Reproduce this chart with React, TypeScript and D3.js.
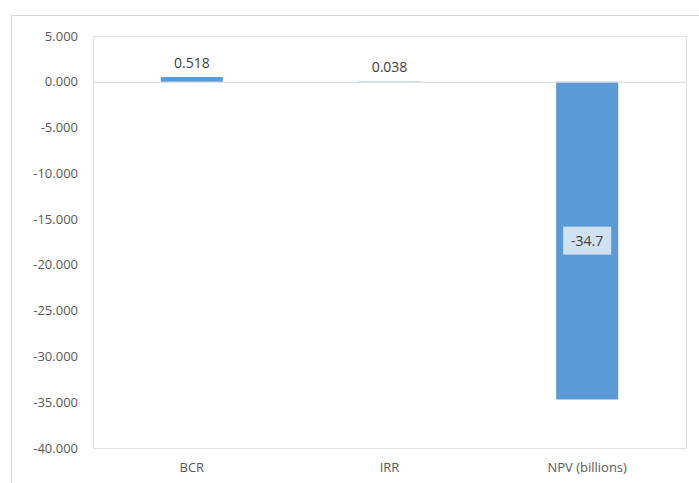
import * as d3 from "d3";

const categories = ["BCR", "IRR", "NPV (billions)"];
const values = [0.518, 0.038, -34.7];
const valueLabels = ["0.518", "0.038", "-34.7"];
const yTicks = [5, 0, -5, -10, -15, -20, -25, -30, -35, -40];

const width = 699;
const height = 483;
const plot = { left: 93, right: 686, top: 36, bottom: 448 };

const App = () => {
  const x = d3
    .scaleBand<string>()
    .domain(categories)
    .range([plot.left, plot.right])
    .paddingInner(0.686)
    .paddingOuter(0.343);
  const y = d3.scaleLinear().domain([-40, 5]).range([plot.bottom, plot.top]);
  // excel style: plain hyphen, not the unicode minus
  const fmt = (v: number) => d3.format(".3f")(v).replace("\u2212", "-");
  const font = "'Open Sans', 'Liberation Sans', sans-serif";

  return (
    <svg
      width={width}
      height={height}
      style={{ position: "absolute", left: 0, top: 0 }}
      fontFamily={font}
    >
      <rect x={0} y={0} width={width} height={height} fill="white" />
      {/* outer chart frame */}
      <rect x={11.5} y={15.5} width={width + 10} height={height + 10} fill="none" stroke="#d9d9d9" />
      {/* plot area frame */}
      <rect
        x={plot.left + 0.5}
        y={plot.top + 0.5}
        width={plot.right - plot.left}
        height={plot.bottom - plot.top}
        fill="none"
        stroke="#e3e3e3"
      />
      {yTicks.map((t) => (
        <text
          key={t}
          x={78}
          y={y(t)}
          dy="0.35em"
          textAnchor="end"
          fontSize={13}
          fill="#595959"
        >
          {fmt(t)}
        </text>
      ))}
      {categories.map((c, i) => {
        const v = values[i];
        const y0 = y(Math.max(0, v));
        const y1 = y(Math.min(0, v));
        return (
          <rect
            key={c}
            x={x(c)}
            y={y0}
            width={x.bandwidth()}
            height={Math.max(0, y1 - y0)}
            fill="#5b9bd5"
          />
        );
      })}
      <line x1={plot.left} x2={plot.right} y1={y(0) + 0.5} y2={y(0) + 0.5} stroke="#d9d9d9" />
      {categories.map((c, i) => {
        const v = values[i];
        const cx = (x(c) ?? 0) + x.bandwidth() / 2;
        if (v < 0) {
          const cy = y(v / 2);
          return (
            <g key={c}>
              <rect x={cx - 24} y={cy - 14} width={48} height={28} fill="#d0e1f2" />
              <text x={cx} y={cy} dy="0.35em" textAnchor="middle" fontSize={14} fill="#404040">
                {valueLabels[i]}
              </text>
            </g>
          );
        }
        return (
          <text key={c} x={cx} y={y(v) - 14} dy="0.35em" textAnchor="middle" fontSize={14} fill="#404040">
            {valueLabels[i]}
          </text>
        );
      })}
      {categories.map((c) => (
        <text
          key={c}
          x={(x(c) ?? 0) + x.bandwidth() / 2}
          y={467}
          dy="0.35em"
          textAnchor="middle"
          fontSize={13}
          fill="#595959"
        >
          {c}
        </text>
      ))}
    </svg>
  );
};

export default App;
